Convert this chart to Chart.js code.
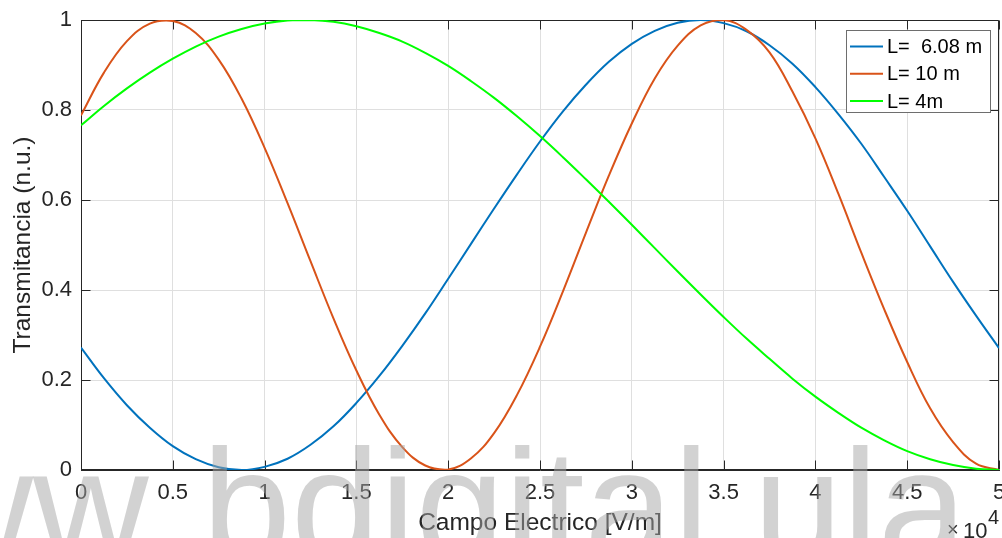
<!DOCTYPE html>
<html>
<head>
<meta charset="utf-8">
<script src="https://cdn.jsdelivr.net/npm/chart.js@4.4.1/dist/chart.umd.min.js"></script>
<style>
  html, body { margin: 0; padding: 0; background: #ffffff; }
  #wrap { width: 1002px; height: 538px; position: relative; }
</style>
</head>
<body>
<div id="wrap"><canvas id="c" width="1002" height="538"></canvas></div>
<script>
// Campo eléctrico aplicado [V/m]
const campo = [0, 1250, 2500, 3750, 5000, 6250, 7500, 8750, 10000, 11250, 12500,
               13750, 15000, 16250, 17500, 18750, 20000, 21250, 22500, 23750, 25000,
               26250, 27500, 28750, 30000, 31250, 32500, 33750, 35000, 36250, 37500,
               38750, 40000, 41250, 42500, 43750, 45000, 46250, 47500, 48750, 50000];

// Transmitancia normalizada para cada longitud de fibra
const transL608 = [0.272, 0.204, 0.144, 0.094, 0.053, 0.024, 0.006, 0.000, 0.007, 0.025, 0.056,
                   0.097, 0.149, 0.209, 0.276, 0.348, 0.425, 0.503, 0.581, 0.657, 0.730,
                   0.797, 0.856, 0.907, 0.947, 0.976, 0.994, 1.000, 0.993, 0.975, 0.944,
                   0.903, 0.851, 0.791, 0.725, 0.651, 0.576, 0.497, 0.418, 0.343, 0.271];
const transL10  = [0.788, 0.883, 0.953, 0.992, 0.998, 0.971, 0.912, 0.825, 0.716, 0.593, 0.464,
                   0.337, 0.221, 0.123, 0.051, 0.010, 0.001, 0.026, 0.082, 0.167, 0.274,
                   0.397, 0.527, 0.654, 0.770, 0.870, 0.943, 0.988, 1.000, 0.978, 0.928,
                   0.841, 0.737, 0.614, 0.483, 0.357, 0.240, 0.137, 0.062, 0.014, 0.000];
const transL4   = [0.766, 0.809, 0.848, 0.883, 0.914, 0.941, 0.963, 0.980, 0.992, 0.999, 1.000,
                   0.996, 0.986, 0.971, 0.952, 0.927, 0.898, 0.864, 0.827, 0.786, 0.742,
                   0.695, 0.646, 0.596, 0.545, 0.493, 0.441, 0.390, 0.340, 0.292, 0.247,
                   0.203, 0.163, 0.127, 0.094, 0.066, 0.042, 0.024, 0.011, 0.003, 0.000];

const etiquetas = ['L=  6.08 m', 'L= 10 m', 'L= 4m'];
const colores   = ['#0072BD', '#D95319', '#00FF00'];

// Etiquetas de los ejes (eje x en unidades de 10^4 V/m)
const xTickLabels = ['0', '0.5', '1', '1.5', '2', '2.5', '3', '3.5', '4', '4.5', '5'];
const yTickLabels = ['0', '0.2', '0.4', '0.6', '0.8', '1'];

const FUENTE = '"Liberation Sans", Arial, Helvetica, sans-serif';
const TINTA = '#262626';

const series = [transL608, transL10, transL4];
const datasets = series.map((vals, i) => ({
  label: etiquetas[i],
  data: campo.map((x, k) => ({ x: x, y: vals[k] })),
  borderColor: colores[i],
  backgroundColor: colores[i],
  borderWidth: 2,
  pointRadius: 0,
  pointHoverRadius: 0,
  tension: 0.4,
  fill: false,
  order: series.length - i
}));

// Marco completo con marcas hacia dentro en los cuatro lados
const marco = {
  id: 'marco',
  beforeDatasetsDraw(chart) {
    const { ctx, chartArea: a, scales: { x, y } } = chart;
    const L = Math.round(a.left) + 0.5, R = Math.round(a.right) - 0.5;
    const T = Math.round(a.top) + 0.5, B = Math.round(a.bottom) - 0.5;
    const largo = 9;
    ctx.save();
    ctx.strokeStyle = TINTA;
    ctx.lineWidth = 1;
    ctx.beginPath();
    ctx.rect(L, T, R - L, B - T);
    x.ticks.forEach(t => {
      const px = Math.round(x.getPixelForValue(t.value)) + 0.5;
      ctx.moveTo(px, B); ctx.lineTo(px, B - largo);
      ctx.moveTo(px, T); ctx.lineTo(px, T + largo);
    });
    y.ticks.forEach(t => {
      const py = Math.round(y.getPixelForValue(t.value)) + 0.5;
      ctx.moveTo(L, py); ctx.lineTo(L + largo, py);
      ctx.moveTo(R, py); ctx.lineTo(R - largo, py);
    });
    ctx.stroke();
    ctx.restore();
  }
};

// Leyenda recuadrada, multiplicador del eje x y marca de agua
const extras = {
  id: 'extras',
  afterDraw(chart) {
    const { ctx, chartArea: a } = chart;
    ctx.save();

    // Leyenda
    const bx = Math.round(a.right) - 153, by = Math.round(a.top) + 10, bw = 144, bh = 82;
    ctx.fillStyle = '#ffffff';
    ctx.fillRect(bx, by, bw, bh);
    ctx.strokeStyle = '#6e6e6e';
    ctx.lineWidth = 1;
    ctx.strokeRect(bx + 0.5, by + 0.5, bw, bh);
    ctx.font = '20px ' + FUENTE;
    ctx.textBaseline = 'middle';
    ctx.textAlign = 'left';
    chart.data.datasets.forEach((ds, i) => {
      const yy = by + 16.5 + i * 27.3;
      ctx.strokeStyle = ds.borderColor;
      ctx.lineWidth = 2;
      ctx.beginPath();
      ctx.moveTo(bx + 4, yy);
      ctx.lineTo(bx + 37, yy);
      ctx.stroke();
      ctx.fillStyle = '#000000';
      ctx.fillText(ds.label, bx + 41, yy + 1);
    });

    // ×10^4
    ctx.fillStyle = TINTA;
    ctx.textBaseline = 'alphabetic';
    ctx.font = '20px ' + FUENTE;
    ctx.fillText('\u00D7', 947, 536);
    ctx.font = '22px ' + FUENTE;
    ctx.fillText('10', 963, 538);
    ctx.font = '20px ' + FUENTE;
    ctx.fillText('4', 988, 524);

    // Marca de agua
    ctx.fillStyle = 'rgba(166,166,166,0.5)';
    ctx.font = '160px ' + FUENTE;
    ctx.fillText('www.', -198, 561);
    ctx.fillText('bdigital.ula.ve', 202, 561);

    ctx.restore();
  }
};

new Chart(document.getElementById('c').getContext('2d'), {
  type: 'line',
  data: { datasets: datasets },
  options: {
    responsive: false,
    animation: false,
    events: [],
    layout: { padding: { top: 20, right: 3, left: 0, bottom: 0 } },
    plugins: {
      legend: { display: false },
      tooltip: { enabled: false },
      title: { display: false }
    },
    scales: {
      x: {
        type: 'linear',
        min: 0,
        max: 50000,
        ticks: {
          stepSize: 5000,
          maxRotation: 0,
          autoSkip: false,
          padding: 10,
          color: TINTA,
          font: { family: FUENTE, size: 22 },
          callback: v => xTickLabels[Math.round(v / 5000)]
        },
        grid: { color: '#dfdfdf', lineWidth: 1, drawTicks: false },
        border: { display: true, color: TINTA, width: 1 },
        title: {
          display: true,
          text: 'Campo Electrico [V/m]',
          color: TINTA,
          font: { family: FUENTE, size: 24.5 },
          padding: { top: 0, bottom: 0 }
        },
        afterFit: s => { s.height = 68; s.paddingLeft = 0; s.paddingRight = 0; }
      },
      y: {
        type: 'linear',
        min: 0,
        max: 1,
        ticks: {
          stepSize: 0.2,
          padding: 9,
          color: TINTA,
          font: { family: FUENTE, size: 22 },
          callback: v => yTickLabels[Math.round(v / 0.2)]
        },
        grid: { color: '#dfdfdf', lineWidth: 1, drawTicks: false },
        border: { display: true, color: TINTA, width: 1 },
        title: {
          display: true,
          text: 'Transmitancia (n.u.)',
          color: TINTA,
          font: { family: FUENTE, size: 24.5 },
          padding: { top: 8.5, bottom: 0 }
        },
        afterFit: s => { s.width = 81; s.paddingTop = 0; s.paddingBottom = 0; }
      }
    }
  },
  plugins: [marco, extras]
});
</script>
</body>
</html>
